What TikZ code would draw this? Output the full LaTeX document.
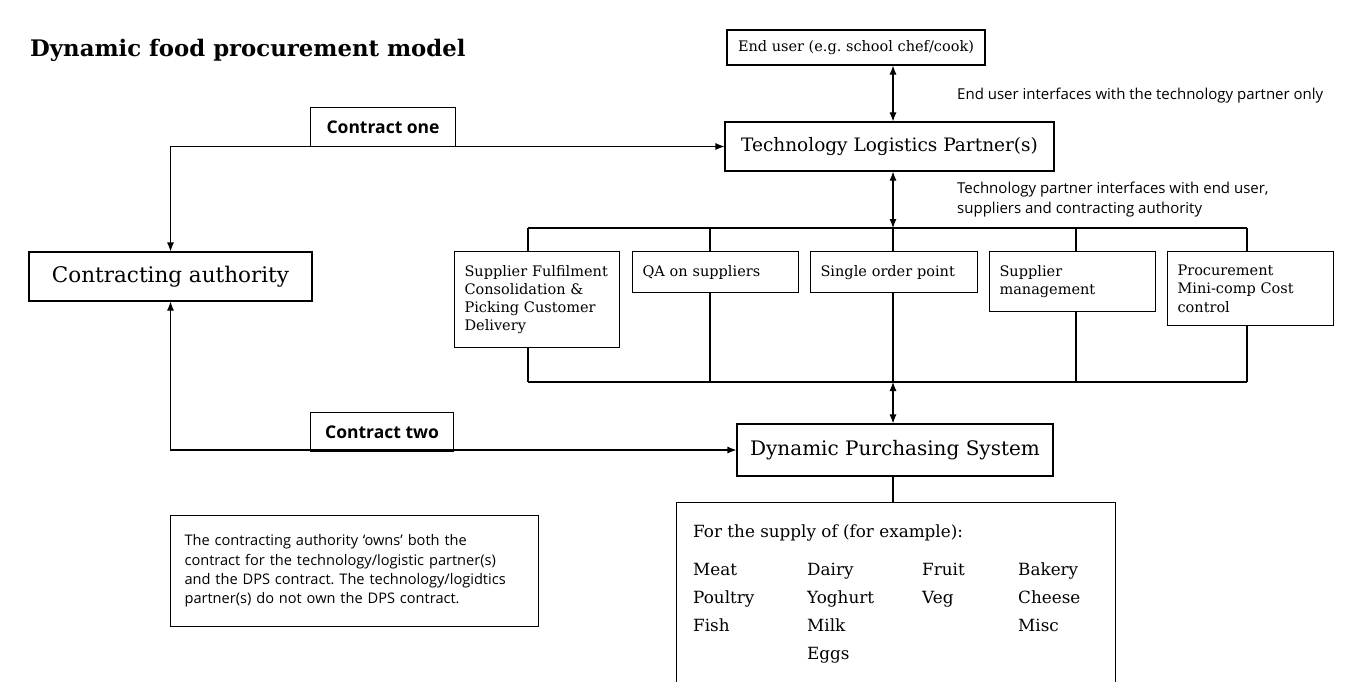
\documentclass[tikz,border=0pt]{standalone}
\usepackage{fontspec}
\setmainfont{DejaVu Serif}
\setsansfont{Open Sans}
\usepackage{tikz}
\usetikzlibrary{arrows.meta}
\frenchspacing

\begin{document}
\begin{tikzpicture}[x=1pt, y=-1pt,
	box/.style={draw, line width=1.1pt, inner sep=0pt},
	mainbox/.style={box, font=\fontsize{18}{22}\selectfont},
	service/.style={draw, line width=1.1pt, anchor=north west, align=left, inner xsep=10pt, inner ysep=13.5pt, font=\fontsize{14.5}{18.3}\selectfont},
	contract/.style={draw, line width=1.1pt, anchor=south west, minimum width=145pt, minimum height=39pt, font=\sffamily\bfseries\fontsize{17.5}{20}\selectfont},
	remark/.style={anchor=west, align=left, inner sep=0pt, font=\sffamily\fontsize{15}{20}\selectfont},
	link/.style={line width=1.1pt},
	both/.style={link, {Latex[length=9pt, width=7pt]}-{Latex[length=9pt, width=7pt]}}]
	\useasboundingbox (0,0) rectangle (1348,682);
	\node[anchor=west, inner sep=0pt, font=\bfseries\fontsize{22.8}{26}\selectfont] (title) at (30,50) {Dynamic food procurement model};
	% main boxes
	\node[mainbox, minimum width=258pt, minimum height=35pt, font=\fontsize{14.5}{18}\selectfont] (enduser) at (856,47.5) {End user (e.g. school chef/cook)};
	\node[mainbox, minimum width=329pt, minimum height=49pt, font=\fontsize{18.5}{22}\selectfont] (tlp) at (889.5,146.5) {Technology Logistics Partner(s)};
	\node[mainbox, minimum width=283pt, minimum height=49pt, font=\fontsize{21.5}{24}\selectfont] (ca) at (170.5,276.5) {Contracting authority};
	\node[mainbox, minimum width=316pt, minimum height=52pt, font=\fontsize{20}{24}\selectfont] (dps) at (895,450) {Dynamic Purchasing System};
	\node[remark] (userremark) at (957,96) {End user interfaces with the technology partner only};
	\node[remark] (partnerremark) at (957,200) {Technology partner interfaces with end user,\\suppliers and contracting authority};
	% services of the partner
	\node[service, text width=145pt] (s1) at (454,251) {Supplier Fulfilment\\Consolidation \&\\Picking Customer\\Delivery};
	\node[service, text width=146pt] (s2) at (632,251) {QA on suppliers};
	\node[service, text width=147pt] (s3) at (810,251) {Single order point};
	\node[service, text width=146pt] (s4) at (989,251) {Supplier\\management};
	\node[service, text width=146pt] (s5) at (1167,251) {Procurement\\Mini-comp Cost\\control};
	\foreach \i/\x in {1/528, 2/710, 3/893, 4/1076, 5/1247} {
		\coordinate (top\i) at (\x,228);
		\coordinate (bot\i) at (\x,382);
		\draw[link] (top\i) -- (top\i |- s\i.north);
		\draw[link] (s\i.south -| bot\i) -- (bot\i);
	}
	\draw[link] (top1) -- (top5);
	\draw[link] (bot1) -- (bot5);
	\draw[both] (enduser.south -| top3) -- (tlp.north -| top3);
	\draw[both] (tlp.south -| top3) -- (top3);
	\draw[both] (bot3) -- (dps.north -| bot3);
	% contracts
	\draw[both] (tlp.west) -| (ca.north);
	\draw[both] (ca.south) |- (dps.west);
	\node[contract] (contractone) at (310,147) {Contract one};
	\node[contract, minimum width=143pt] (contracttwo) at (310,452) {Contract two};
	% supply
	\node[box, anchor=north west, minimum width=439pt, minimum height=200pt] (supply) at (676,502) {};
	\draw[link] (dps.south -| bot3) -- (supply.north -| bot3);
	\node[anchor=base west, inner sep=0pt, font=\fontsize{16.8}{28.3}\selectfont] (supplylist) at (693,537) {\begin{tabular}[t]{@{}p{102pt}p{103pt}p{84pt}l@{}}
		\multicolumn{4}{@{}l}{For the supply of (for example):}\\[9.7pt]
		Meat & Dairy & Fruit & Bakery\\
		Poultry & Yoghurt & Veg & Cheese\\
		Fish & Milk & & Misc\\
		& Eggs & &
	\end{tabular}};
	\node[draw, line width=1.1pt, anchor=north west, text width=340pt, minimum height=111pt, inner xsep=14pt, align=left, font=\sffamily\fontsize{14.6}{19.3}\selectfont] (ownership) at (170,515) {The contracting authority ‘owns’ both the\\contract for the technology/logistic partner(s)\\and the DPS contract. The technology/logidtics\\partner(s) do not own the DPS contract.};
\end{tikzpicture}
\end{document}
